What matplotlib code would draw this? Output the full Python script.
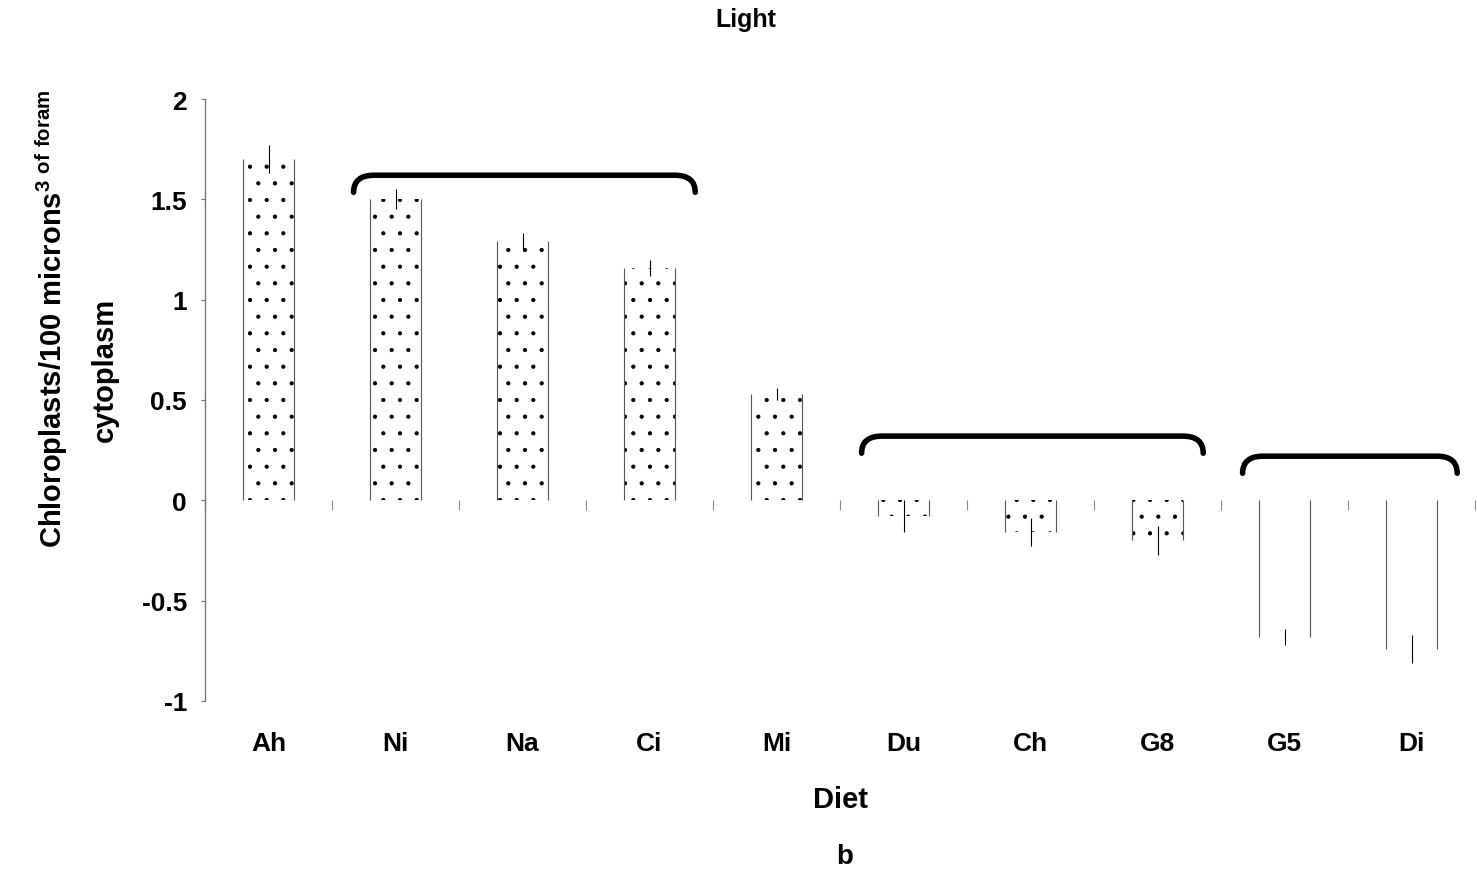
import matplotlib
matplotlib.use("Agg")
import matplotlib.pyplot as plt
import numpy as np
from matplotlib.path import Path
from matplotlib.patches import PathPatch

diets = ["Ah", "Ni", "Na", "Ci", "Mi", "Du", "Ch", "G8", "G5", "Di"]
chloroplasts = [1.70, 1.50, 1.29, 1.16, 0.53, -0.08, -0.16, -0.20, -0.68, -0.74]
std_err = [0.07, 0.05, 0.04, 0.04, 0.03, 0.08, 0.07, 0.07, 0.04, 0.07]
bar_hatch = [".", ".", ".", ".", ".", ".", ".", ".", "", ""]

# diets joined by a bracket (first index, last index, bracket level)
group_first = [1, 5, 8]
group_last = [3, 7, 9]
group_level = [1.62, 0.32, 0.22]

plt.rcParams['font.family'] = ['Liberation Sans', 'DejaVu Sans']
plt.rcParams['font.weight'] = 'bold'
plt.rcParams['mathtext.fontset'] = 'custom'
plt.rcParams['mathtext.rm'] = 'Liberation Sans:bold'
plt.rcParams['mathtext.bf'] = 'Liberation Sans:bold'
plt.rcParams['mathtext.default'] = 'rm'
plt.rcParams['hatch.linewidth'] = 0.6


def draw_bracket(ax, x0, x1, y, drop=0.085, corner=0.16):
    verts = [(x0, y - drop), (x0, y), (x0 + corner, y),
             (x1 - corner, y), (x1, y), (x1, y - drop)]
    codes = [Path.MOVETO, Path.CURVE3, Path.CURVE3,
             Path.LINETO, Path.CURVE3, Path.CURVE3]
    ax.add_patch(PathPatch(Path(verts, codes), fill=False, lw=4.0,
                           edgecolor='black', capstyle='round', joinstyle='round'))


fig = plt.figure(figsize=(14.77, 8.70), dpi=100)
ax = fig.add_axes([205 / 1477, 1 - 702 / 870, 1270 / 1477, 602 / 870])

x = np.arange(len(diets))
bars = ax.bar(x, chloroplasts, width=0.4, color='white', edgecolor='black', linewidth=0)
for rect, h in zip(bars, bar_hatch):
    rect.set_hatch(h)
    left = rect.get_x()
    ax.vlines([left, left + rect.get_width()], 0, rect.get_height(),
              color='#555555', lw=0.8)

ax.errorbar(x, chloroplasts, yerr=std_err, fmt='none', ecolor='black',
            elinewidth=0.8, capsize=0)

for g0, g1, lvl in zip(group_first, group_last, group_level):
    draw_bracket(ax, g0 - 0.33, g1 + 0.36, lvl)

ax.set_xlim(-0.5, len(diets) - 0.5)
ax.set_ylim(-1, 2)
ax.set_yticks(np.arange(-1, 2.01, 0.5))
ax.set_yticklabels(["-1", "-0.5", "0", "0.5", "1", "1.5", "2"], fontsize=19, fontweight='bold')
ax.tick_params(axis='y', length=3, width=0.8, color='#777777', pad=10)

# category boundaries as ticks on the zero line, names hung low
ax.spines['bottom'].set_position(('data', 0))
ax.spines['bottom'].set_color('none')
ax.set_xticks(np.arange(-0.5, len(diets), 1))
ax.set_xticklabels([])
ax.set_xticks(x, minor=True)
ax.set_xticklabels(diets, minor=True, fontsize=19, fontweight='bold')
ax.tick_params(axis='x', which='major', direction='out', length=7, width=0.8, color='#888888')
ax.tick_params(axis='x', which='minor', length=0, pad=166)

for side in ['top', 'right']:
    ax.spines[side].set_visible(False)
ax.spines['left'].set_color('#777777')
ax.spines['left'].set_linewidth(1.0)

ax.set_ylabel("Chloroplasts/100 microns$^{3\\ of\\ foram}$",
              fontsize=21, fontweight='bold')
ax.yaxis.set_label_coords(-0.106, 0.636)
ax.text(-0.0787, 0.551, "cytoplasm", transform=ax.transAxes, rotation=90,
        ha='center', va='center', fontsize=21, fontweight='bold')

fig.text(0.505, 0.977, "Light", ha='center', va='center', fontsize=18, fontweight='bold')
fig.text(0.569, 0.080, "Diet", ha='center', va='center', fontsize=21, fontweight='bold')
fig.text(0.572, 0.015, "b", ha='center', va='center', fontsize=20, fontweight='bold')

fig.savefig("out.png", dpi=100)
